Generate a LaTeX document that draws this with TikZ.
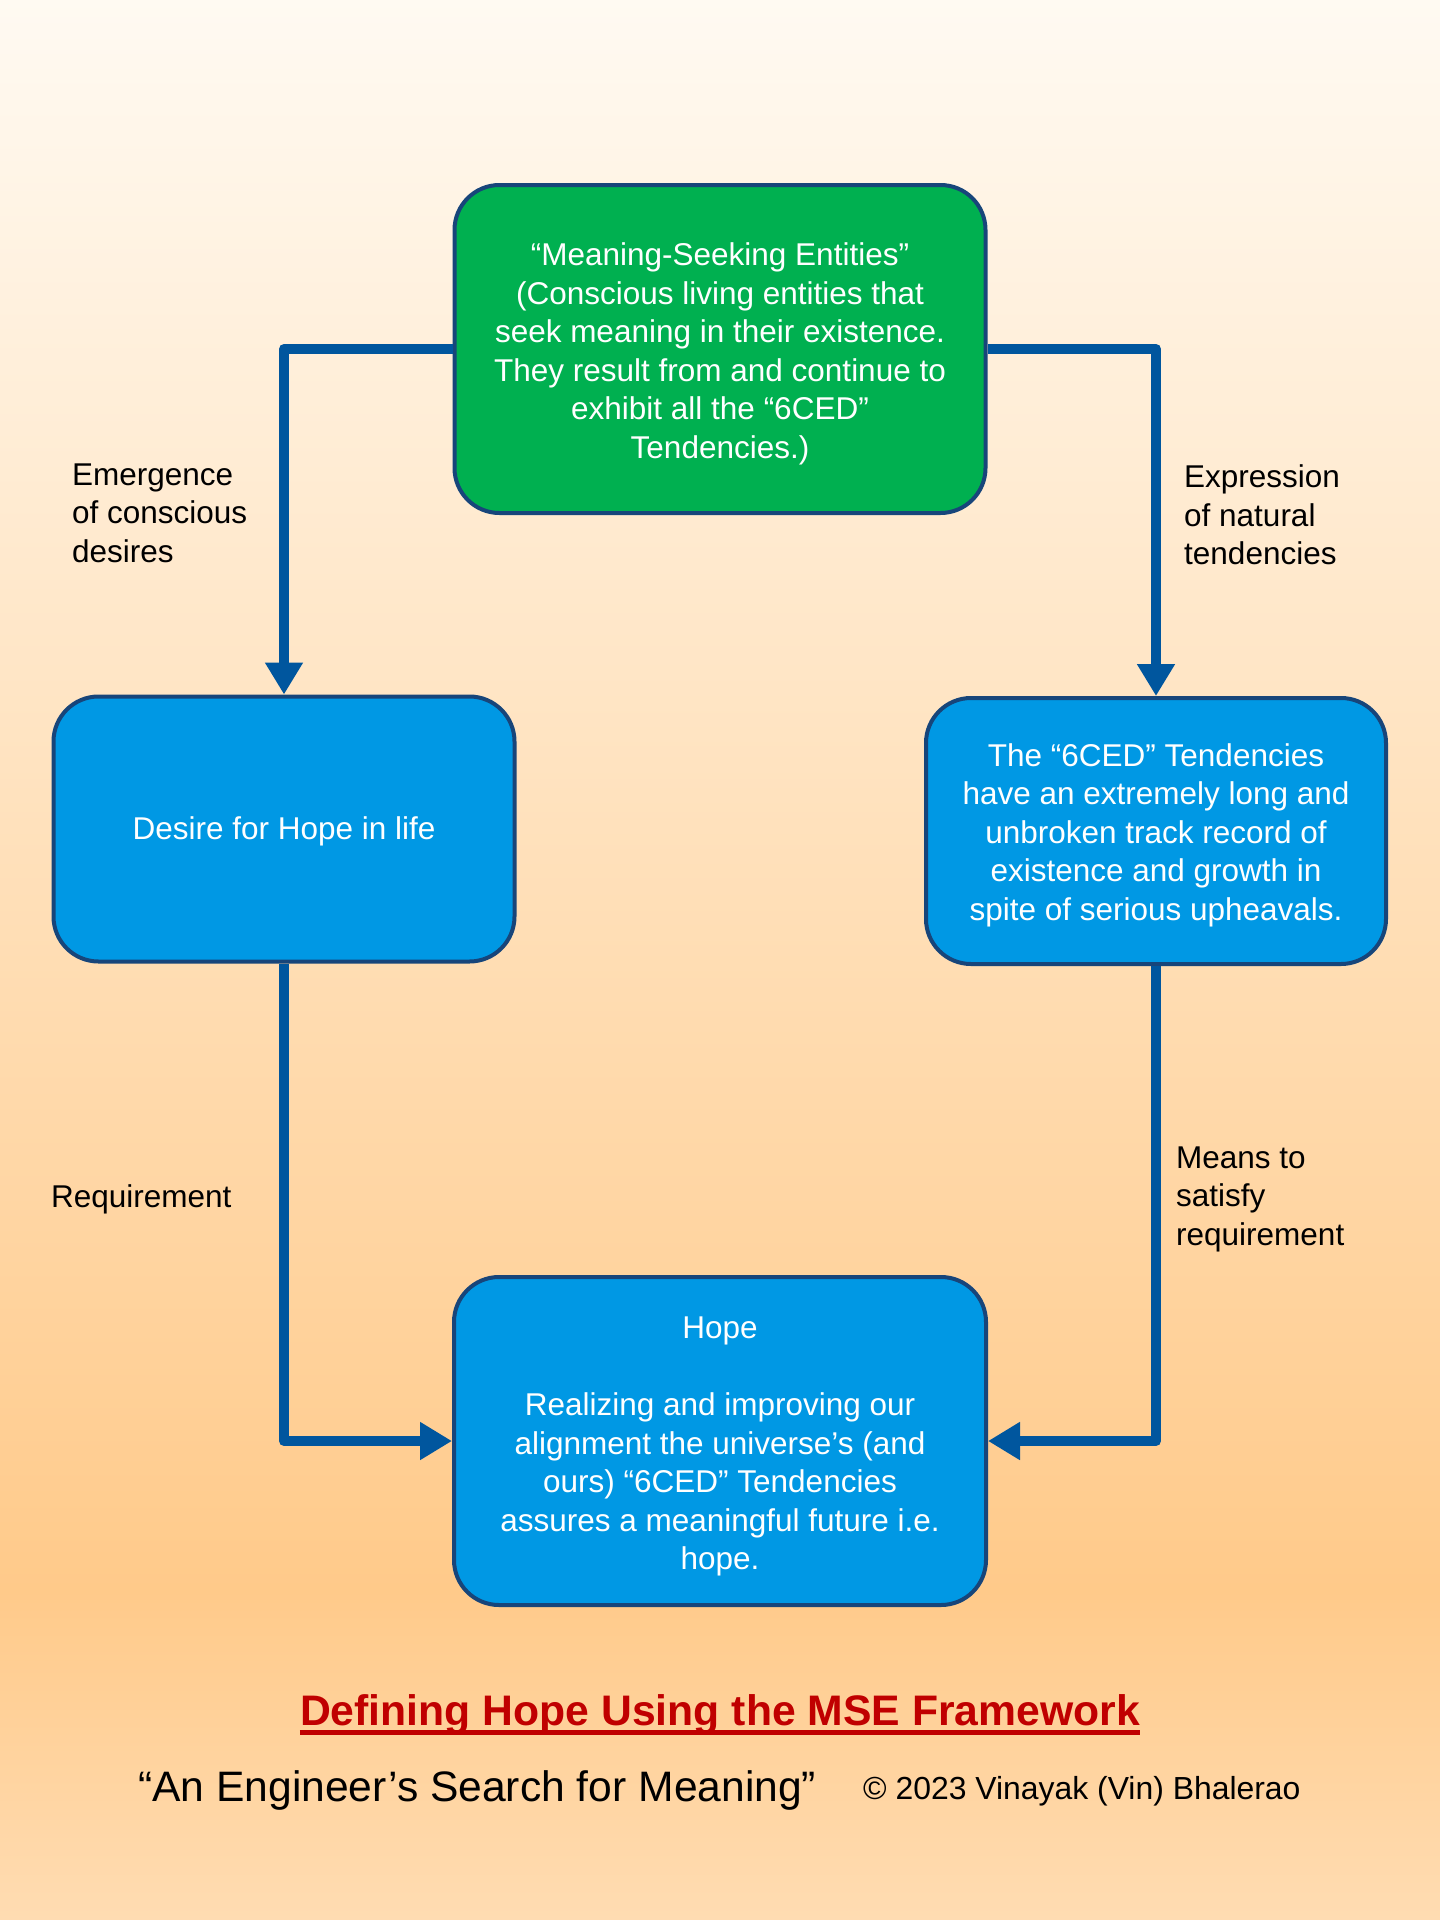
\documentclass[tikz,border=0pt]{standalone}
\usepackage{fontspec}
\setmainfont{Liberation Sans}
\usetikzlibrary{arrows.meta}
\definecolor{bgtop}{HTML}{FFFAF2}
\definecolor{bgmid}{HTML}{FFCA8A}
\definecolor{bgbot}{HTML}{FFDCB2}
\definecolor{boxgreen}{HTML}{00B050}
\definecolor{boxblue}{HTML}{0098E4}
\definecolor{boxborder}{HTML}{17457A}
\definecolor{connblue}{HTML}{00569E}
\definecolor{titlered}{HTML}{C00000}
\newcommand{\topstrut}[1]{\rule{0pt}{#1}}
\tikzset{
  box/.style={draw=boxborder, line width=4pt, rounded corners=45pt, text=white,
    align=center, inner sep=0pt, font=\fontsize{31.5}{38.5}\selectfont},
  conn/.style={draw=connblue, line width=10pt, line join=round,
    -{Triangle[width=36pt,length=32pt]}},
  lbl/.style={align=left, anchor=west, inner sep=0pt, text=black,
    font=\fontsize{31.5}{38.5}\selectfont},
}
\begin{document}
\begin{tikzpicture}[x=1pt,y=-1pt]
\useasboundingbox (0,0) rectangle (1440,1920);
\shade[top color=bgtop, bottom color=bgmid] (0,0) rectangle (1440,1590);
\shade[top color=bgmid, bottom color=bgbot] (0,1590) rectangle (1440,1920);

\node[box, fill=boxgreen, minimum width=531pt, minimum height=328pt] (top) at (720,349)
  {\topstrut{33pt}“Meaning-Seeking Entities”\\(Conscious living entities that\\seek meaning in their existence.\\They result from and continue to\\exhibit all the “6CED”\\Tendencies.)};
\node[box, fill=boxblue, minimum width=461pt, minimum height=265pt] (left) at (284,829)
  {\topstrut{28pt}Desire for Hope in life};
\node[box, fill=boxblue, minimum width=460pt, minimum height=266pt] (right) at (1156,831)
  {\topstrut{31pt}The “6CED” Tendencies\\have an extremely long and\\unbroken track record of\\existence and growth in\\spite of serious upheavals.};
\node[box, fill=boxblue, minimum width=532pt, minimum height=328pt] (bot) at (720,1441)
  {\topstrut{33pt}Hope\\[38.5pt]Realizing and improving our\\alignment the universe’s (and\\ours) “6CED” Tendencies\\assures a meaningful future i.e.\\hope.};

\draw[conn] (top.west) -| (left.north);
\draw[conn] (top.east) -| (right.north);
\draw[conn] (left.south) |- (bot.west);
\draw[conn] (right.south) |- (bot.east);

\node[lbl] (l1) at (72,513) {Emergence\\of conscious\\desires};
\node[lbl] (l2) at (1184,515) {Expression\\of natural\\tendencies};
\node[lbl] (l3) at (51,1199) {Requirement};
\node[lbl] (l4) at (1176,1199) {Means to\\satisfy\\requirement};

\node[anchor=base, inner sep=0pt, text=titlered, font=\fontsize{42.7}{50}\selectfont\bfseries] (title) at (720,1725)
  {Defining Hope Using the MSE Framework};
\draw[titlered, line width=5pt] ([yshift=-7.5pt]title.base west) -- ([yshift=-7.5pt]title.base east);
\node[anchor=west, inner sep=0pt, font=\fontsize{42.6}{50}\selectfont] (sub) at (138,1790)
  {“An Engineer’s Search for Meaning”};
\node[anchor=west, inner sep=0pt, font=\fontsize{31.9}{38}\selectfont] (copy) at (863,1791)
  {© 2023 Vinayak (Vin) Bhalerao};
\end{tikzpicture}
\end{document}
